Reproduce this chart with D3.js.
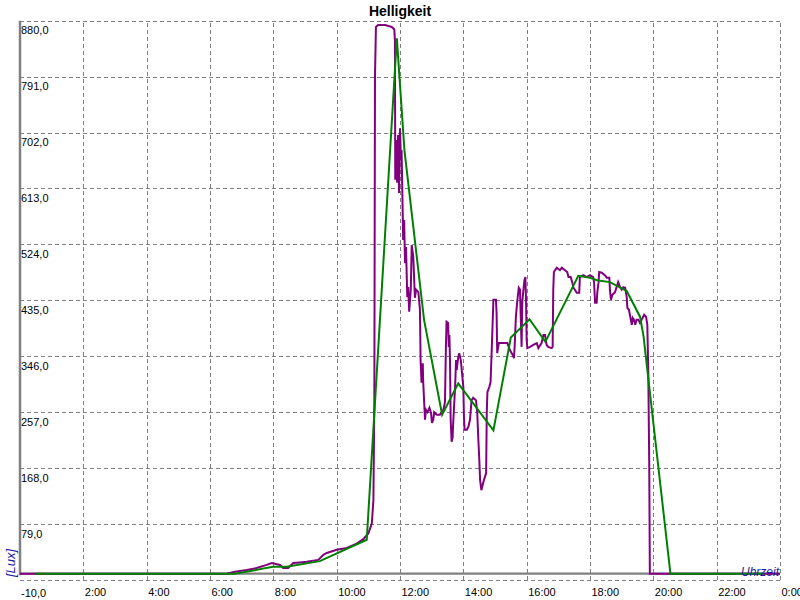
<!DOCTYPE html>
<html><head><meta charset="utf-8">
<script src="https://cdn.jsdelivr.net/npm/d3@7"></script>
<style>html,body{margin:0;padding:0;background:#fff;} svg{display:block;}</style>
</head><body><svg id="c" width="800" height="600"></svg>
<script>
const chartTitle = "Helligkeit";
const yAxisTitle = "[Lux]";
const xAxisTitle = "Uhrzeit";
const yTickValues = [-10, 79, 168, 257, 346, 435, 524, 613, 702, 791, 880];
const xTickValues = [2, 4, 6, 8, 10, 12, 14, 16, 18, 20, 22, 24];
const xTickLabels = ["2:00","4:00","6:00","8:00","10:00","12:00","14:00","16:00","18:00","20:00","22:00","0:00"];

// measured series (hours of day, lux)
const measuredHours = [0, 6.53, 6.79, 7.16, 7.47, 7.79, 7.95, 8.21, 8.31, 8.47,
 8.63, 8.84, 9.05, 9.42, 9.58, 9.69, 10.0, 10.32, 10.63, 10.84,
 11.0, 11.11, 11.16, 11.19, 11.21, 11.24, 11.31, 11.53, 11.74, 11.82,
 11.84, 11.85, 11.88, 11.91, 11.94, 11.97, 12.0, 12.03, 12.05, 12.08,
 12.1, 12.13, 12.16, 12.19, 12.23, 12.26, 12.29, 12.34, 12.37, 12.42,
 12.47, 12.51, 12.58, 12.63, 12.65, 12.68, 12.72, 12.73, 12.79, 12.82,
 12.87, 12.93, 12.98, 13.01, 13.05, 13.08, 13.16, 13.26, 13.32, 13.37,
 13.42, 13.45, 13.47, 13.52, 13.54, 13.56, 13.58, 13.6, 13.63, 13.66,
 13.68, 13.74, 13.77, 13.79, 13.84, 13.87, 13.92, 13.95, 14.0, 14.02,
 14.04, 14.11, 14.16, 14.21, 14.26, 14.31, 14.4, 14.44, 14.47, 14.5,
 14.53, 14.57, 14.61, 14.65, 14.72, 14.74, 14.76, 14.82, 14.86, 14.9,
 14.95, 15.03, 15.05, 15.07, 15.12, 15.26, 15.39, 15.47, 15.56, 15.6,
 15.62, 15.66, 15.7, 15.75, 15.79, 15.81, 15.84, 15.86, 15.89, 15.93,
 15.96, 15.98, 16.0, 16.02, 16.11, 16.21, 16.32, 16.37, 16.47, 16.53,
 16.58, 16.63, 16.68, 16.79, 16.82, 16.84, 16.86, 16.95, 17.05, 17.11,
 17.21, 17.28, 17.32, 17.39, 17.44, 17.47, 17.58, 17.66, 17.68, 17.79,
 17.9, 18.0, 18.1, 18.13, 18.16, 18.21, 18.23, 18.27, 18.29, 18.37,
 18.47, 18.53, 18.61, 18.63, 18.66, 18.71, 18.79, 18.84, 18.89, 18.95,
 19.0, 19.05, 19.11, 19.16, 19.18, 19.23, 19.26, 19.32, 19.35, 19.39,
 19.43, 19.47, 19.53, 19.58, 19.63, 19.71, 19.77, 19.81, 19.84, 19.87,
 19.89, 24];
const measuredLux = [0, 0, 3, 6, 9, 14, 17, 14, 9, 9,
 17, 18, 19, 22, 30, 33, 38, 41, 48, 55,
 64, 80, 117, 276, 791, 870, 873, 873, 870, 866,
 849, 627, 690, 622, 698, 606, 709, 658, 674, 590,
 531, 563, 494, 520, 440, 456, 417, 452, 523, 504,
 439, 452, 448, 420, 340, 304, 335, 308, 245, 261,
 257, 264, 256, 240, 245, 257, 253, 253, 257, 261,
 273, 361, 401, 399, 361, 380, 335, 245, 210, 216,
 240, 297, 340, 324, 345, 351, 340, 324, 297, 249,
 229, 229, 234, 245, 276, 280, 276, 256, 218, 186,
 149, 133, 141, 149, 160, 256, 289, 297, 305, 361,
 436, 436, 415, 351, 367, 367, 367, 356, 348, 343,
 361, 409, 432, 455, 452, 415, 361, 431, 448, 467,
 472, 436, 372, 359, 361, 364, 367, 359, 367, 380,
 380, 364, 361, 359, 361, 452, 480, 487, 483, 487,
 483, 480, 472, 472, 464, 456, 447, 447, 472, 475,
 472, 475, 472, 463, 431, 431, 447, 464, 480, 479,
 475, 471, 471, 452, 436, 444, 448, 456, 464, 456,
 452, 456, 455, 440, 423, 420, 412, 396, 407, 404,
 396, 404, 404, 399, 404, 412, 409, 396, 324, 178,
 0, 0];

// smoothed series
const smoothHours = [0.5, 6.79, 7.99, 8.42, 9.47, 10.95, 11.9, 12.14, 12.76, 13.33, 13.84, 14.95, 15.5, 16.09, 16.59, 17.63, 18.0, 18.22, 18.63, 19.16, 19.58, 19.69, 20.54, 23.5];
const smoothLux  = [0, 0, 11, 11, 20, 54, 852, 674, 404, 253, 303, 228, 376, 405, 369, 474, 471, 467, 464, 450, 409, 378, 0, 0];

const measuredColor = "#800080";
const smoothColor = "#008000";
const gridColor = "#808080";
const titleBlue = "#1c1c9c";
const font = "'Liberation Sans', Arial, sans-serif";

const svg = d3.select("#c");
svg.append("rect").attr("width",800).attr("height",600).attr("fill","#fff");

const x = d3.scaleLinear().domain([0, 24]).range([20, 780]);
const y = d3.scaleLinear().domain([-10, 880]).range([580, 20.7]);

// horizontal grid + y labels
const yAxis = d3.axisRight(y).tickValues(yTickValues).tickSize(760)
  .tickFormat(d => d.toFixed(1).replace(".", ","));
const gy = svg.append("g").attr("transform", "translate(20,0)").call(yAxis);
gy.attr("font-family", font).attr("font-size", 11);
gy.select(".domain").remove();
gy.selectAll(".tick line").attr("stroke", gridColor).attr("stroke-dasharray", "4,3").attr("shape-rendering","crispEdges");
gy.selectAll(".tick text").attr("x", 1).attr("dy", null)
  .attr("y", d => d === -10 ? 16 : 13).attr("text-anchor", "start").attr("fill", "#000");

// vertical grid + x labels
const xAxis = d3.axisBottom(x).tickValues(xTickValues).tickSize(-(580 - 20.7))
  .tickFormat((d, i) => xTickLabels[i]);
const gx = svg.append("g").attr("transform", "translate(0,580)").call(xAxis);
gx.attr("font-family", font).attr("font-size", 11);
gx.select(".domain").remove();
gx.selectAll(".tick line").attr("stroke", gridColor).attr("stroke-dasharray", "4,3").attr("shape-rendering","crispEdges");
gx.selectAll(".tick text").attr("x", 1).attr("dy", null).attr("y", 16)
  .attr("text-anchor", "start").attr("fill", "#000");

// axis lines
svg.append("line").attr("x1", x(0)).attr("x2", x(0)).attr("y1", y(880)).attr("y2", y(0) + 1.5)
  .attr("stroke", gridColor).attr("stroke-width", 2.5);
svg.append("line").attr("x1", x(0)).attr("x2", x(24)).attr("y1", y(0)).attr("y2", y(0))
  .attr("stroke", gridColor).attr("stroke-width", 2.3);

// series
const n1 = Math.min(measuredHours.length, measuredLux.length);
const measured = d3.range(n1).map(i => [measuredHours[i], measuredLux[i]]);
const n2 = Math.min(smoothHours.length, smoothLux.length);
const smooth = d3.range(n2).map(i => [smoothHours[i], smoothLux[i]]);
const line = d3.line().x(d => x(d[0])).y(d => y(d[1]));
svg.append("path").datum(measured).attr("d", line).attr("fill", "none")
  .attr("stroke", measuredColor).attr("stroke-width", 2).attr("stroke-linejoin", "miter");
svg.append("path").datum(smooth).attr("d", line).attr("fill", "none")
  .attr("stroke", smoothColor).attr("stroke-width", 2);

// titles
svg.append("text").attr("x", 400).attr("y", 16).attr("text-anchor", "middle")
  .attr("font-family", font).attr("font-size", 14).attr("font-weight", "bold").text(chartTitle);
svg.append("text").attr("x", 779).attr("y", 576).attr("text-anchor", "end")
  .attr("font-family", font).attr("font-size", 12).attr("font-style", "italic")
  .attr("fill", titleBlue).text(xAxisTitle);
svg.append("text").attr("transform", "translate(15,577) rotate(-90)").attr("text-anchor", "start")
  .attr("font-family", font).attr("font-size", 13).attr("font-style", "italic")
  .attr("fill", titleBlue).text(yAxisTitle);
</script>
</body></html>
